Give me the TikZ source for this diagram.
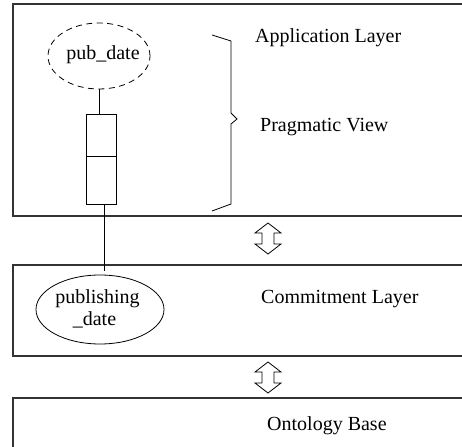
\documentclass[tikz,border=0pt]{standalone}
\usepackage{fontspec}
\setmainfont{Liberation Serif}
\usetikzlibrary{shapes.geometric}
\tikzset{
  layerbox/.style={draw=black!80, line width=1.2pt},
  lbl/.style={anchor=base west, inner sep=0pt, font=\fontsize{20}{24}\selectfont},
  intxt/.style={anchor=base, inner sep=0pt, font=\fontsize{20}{24}\selectfont},
  thin line/.style={line width=0.8pt},
  cell/.style={draw, line width=0.8pt, minimum width=30pt, inner sep=0pt, outer sep=0pt},
  dbl arrow/.style={draw, line width=0.8pt, fill=white}
}
\begin{document}
\begin{tikzpicture}[x=1pt,y=-1pt]
\useasboundingbox (0,0) rectangle (462,446);
\clip (0,0) rectangle (462,446);
% layer boxes
\draw[layerbox] (13,4) rectangle (475,216);
\draw[layerbox] (13,265) rectangle (475,356);
\draw[layerbox] (13,398) rectangle (475,470);
% labels
\node[lbl] (app) at (255,43) {Application Layer};
\node[lbl] (prag) at (260,132) {Pragmatic View};
\node[lbl] (commit) at (261,303) {Commitment Layer};
\node[lbl] (onto) at (267,430) {Ontology Base};
% pub_date ellipse
\node[ellipse, draw, thin line, dash pattern=on 6pt off 4.5pt, minimum width=102pt, minimum height=66pt, inner sep=0pt] (pubE) at (99,56) {};
\node[intxt] (pubT) at (103,60) {pub\_date};
% rectangle cells
\node[cell, minimum height=42pt] (cellA) at (101,135) {};
\node[cell, minimum height=48pt] (cellB) at (101,180) {};
% publishing_date ellipse
\node[ellipse, draw, thin line, minimum width=128pt, minimum height=69pt, inner sep=0pt] (pubdE) at (100,309.5) {};
\node[intxt] (pubdT1) at (97.5,303) {publishing};
\node[intxt] (pubdT2) at (94.5,325) {\_date};
% connectors
\draw[thin line] (pubE.south) -- (pubE.south |- cellA.north);
\coordinate (cEnd) at (104,271);
\draw[thin line] ([xshift=3pt]cellB.south) -- (cEnd);
% brace
\draw[thin line] (212,35) -- (231,41) -- (231,113) -- (237,119) -- (231,124) -- (231,204) -- (212,211);
% double arrows
\draw[dbl arrow] (268,223) -- (281,233) -- (274,233) -- (274,244) -- (281,244) -- (268,254) -- (255,244) -- (262,244) -- (262,233) -- (255,233) -- cycle;
\draw[dbl arrow] (268,362) -- (281,372) -- (274,372) -- (274,383) -- (281,383) -- (268,393) -- (255,383) -- (262,383) -- (262,372) -- (255,372) -- cycle;
\end{tikzpicture}
\end{document}
